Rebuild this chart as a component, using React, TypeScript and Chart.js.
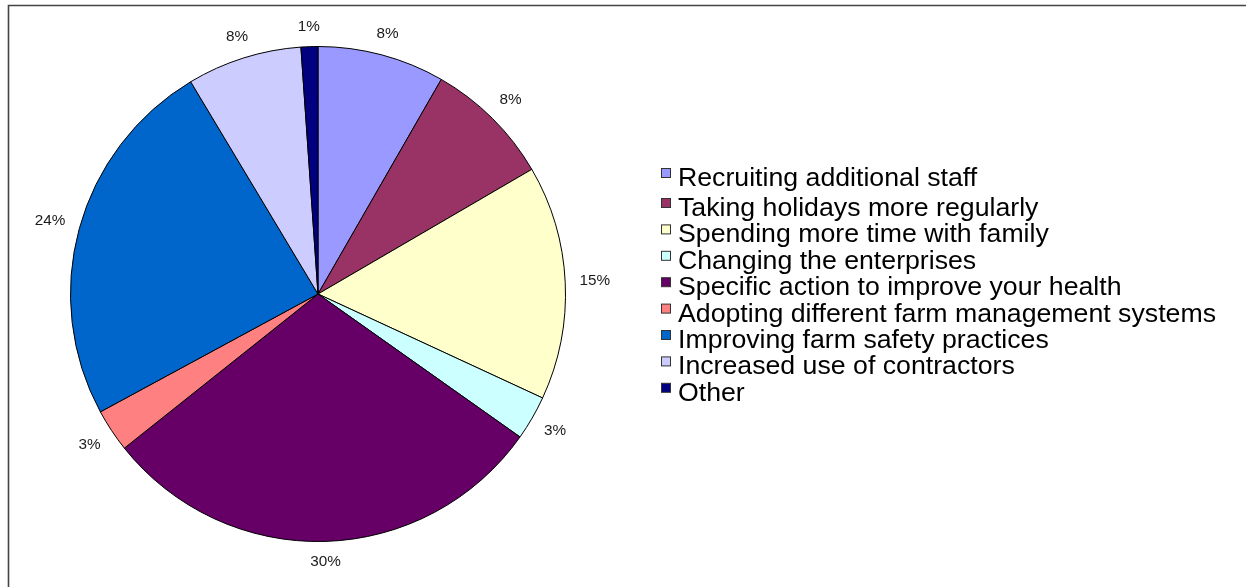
import React, { useEffect, useRef } from "react";
import { Chart, registerables } from "chart.js";

Chart.register(...registerables);

const categories = [
  "Recruiting additional staff",
  "Taking holidays more regularly",
  "Spending more time with family",
  "Changing the enterprises",
  "Specific action to improve your health",
  "Adopting different farm management systems",
  "Improving farm safety practices",
  "Increased use of contractors",
  "Other",
];

const shares = [8.3, 8.3, 15.3, 2.9, 29.5, 2.8, 24.3, 7.5, 1.1];

const sliceColors = [
  "#9999FF",
  "#993366",
  "#FFFFCC",
  "#CCFFFF",
  "#660066",
  "#FF8080",
  "#0066CC",
  "#CCCCFF",
  "#000080",
];

const FONT = '"Liberation Sans", Arial, sans-serif';

const framePlugin = {
  id: "frame",
  beforeDraw(chart: any) {
    const ctx = chart.ctx;
    ctx.save();
    ctx.fillStyle = "#ffffff";
    ctx.fillRect(0, 0, chart.width, chart.height);
    ctx.strokeStyle = "#444444";
    ctx.lineWidth = 1.6;
    ctx.beginPath();
    ctx.moveTo(8.5, chart.height);
    ctx.lineTo(8.5, 5.5);
    ctx.lineTo(chart.width, 5.5);
    ctx.stroke();
    ctx.restore();
  },
};

const pctLabelPlugin = {
  id: "pctLabels",
  afterDatasetsDraw(chart: any) {
    const ctx = chart.ctx;
    const meta = chart.getDatasetMeta(0);
    const data = chart.data.datasets[0].data as number[];
    const total = data.reduce((a, b) => a + b, 0);
    ctx.save();
    ctx.font = `15.3px ${FONT}`;
    ctx.fillStyle = "#1a1a1a";
    ctx.textAlign = "center";
    ctx.textBaseline = "middle";
    meta.data.forEach((arc: any, i: number) => {
      const { x, y, startAngle, endAngle, outerRadius } = arc.getProps(
        ["x", "y", "startAngle", "endAngle", "outerRadius"],
        true
      );
      const mid = (startAngle + endAngle) / 2;
      const txt = Math.round((data[i] / total) * 100) + "%";
      const w = ctx.measureText(txt).width;
      const h = 11;
      const c = Math.cos(mid);
      const s = Math.sin(mid);
      const r = outerRadius + 14 + Math.abs(c) * (w / 2) + Math.abs(s) * (h / 2);
      ctx.fillText(txt, x + r * c, y + r * s);
    });
    ctx.restore();
  },
};

const legendPlugin = {
  id: "customLegend",
  afterDraw(chart: any) {
    const ctx = chart.ctx;
    const labels = chart.data.labels as string[];
    const colors = chart.data.datasets[0].backgroundColor as string[];
    ctx.save();
    ctx.font = `26.7px ${FONT}`;
    ctx.textAlign = "left";
    ctx.textBaseline = "alphabetic";
    labels.forEach((lab, i) => {
      const base = i === 0 ? 186 : 216 + (i - 1) * 26.4;
      ctx.fillStyle = colors[i];
      ctx.fillRect(661.5, base - 17.5, 9, 9);
      ctx.strokeStyle = "#333333";
      ctx.lineWidth = 1;
      ctx.strokeRect(661.5, base - 17.5, 9, 9);
      ctx.fillStyle = "#000000";
      ctx.fillText(lab, 678, base);
    });
    ctx.restore();
  },
};

export default function App() {
  const ref = useRef<HTMLCanvasElement | null>(null);

  useEffect(() => {
    document.body.style.margin = "0";
    const canvas = ref.current;
    if (!canvas) return;
    const chart = new Chart(canvas, {
      type: "pie",
      data: {
        labels: categories,
        datasets: [
          {
            data: shares,
            backgroundColor: sliceColors,
            borderColor: "#000000",
            borderWidth: 1,
          },
        ],
      },
      options: {
        responsive: false,
        animation: false,
        devicePixelRatio: 1,
        layout: { padding: { left: 70, top: 46, right: 680, bottom: 45 } },
        plugins: {
          legend: { display: false },
          tooltip: { enabled: false },
        },
      },
      plugins: [framePlugin, pctLabelPlugin, legendPlugin],
    });
    return () => chart.destroy();
  }, []);

  return (
    <div style={{ position: "absolute", left: 0, top: 0, width: 1246, height: 587 }}>
      <canvas ref={ref} width={1246} height={587} />
    </div>
  );
}
